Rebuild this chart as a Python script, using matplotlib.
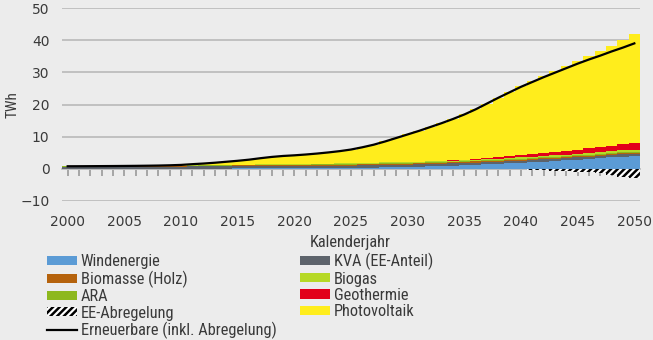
import matplotlib
matplotlib.use("Agg")
import matplotlib.pyplot as plt
from matplotlib.patches import Patch
from matplotlib.lines import Line2D
import numpy as np

years = list(range(2000, 2051))

wind = [0.0, 0.0, 0.0, 0.01, 0.01, 0.01, 0.01, 0.02, 0.02, 0.02,
        0.04, 0.07, 0.09, 0.09, 0.10, 0.11, 0.11, 0.13, 0.12, 0.14,
        0.15, 0.18, 0.20, 0.23, 0.27, 0.30, 0.35, 0.40, 0.47, 0.53,
        0.60, 0.70, 0.80, 0.90, 1.00, 1.10, 1.25, 1.40, 1.55, 1.70,
        1.85, 2.05, 2.25, 2.45, 2.65, 2.85, 3.10, 3.35, 3.60, 3.80, 4.00]
kva = [0.60, 0.60, 0.61, 0.62, 0.62, 0.63, 0.64, 0.65, 0.65, 0.66,
       0.67, 0.68, 0.69, 0.70, 0.70, 0.71, 0.71, 0.72, 0.72, 0.72,
       0.72, 0.72, 0.72, 0.72, 0.72, 0.72, 0.72, 0.72, 0.72, 0.72,
       0.71, 0.71, 0.71, 0.71, 0.71, 0.70, 0.70, 0.70, 0.70, 0.70,
       0.70, 0.70, 0.70, 0.70, 0.70, 0.70, 0.70, 0.70, 0.70, 0.70, 0.70]
biomasse = [0.05, 0.05, 0.05, 0.06, 0.06, 0.07, 0.08, 0.09, 0.10, 0.11,
            0.12, 0.14, 0.16, 0.18, 0.20, 0.22, 0.24, 0.26, 0.28, 0.29,
            0.30, 0.30, 0.31, 0.31, 0.32, 0.32, 0.32, 0.33, 0.33, 0.33,
            0.33, 0.33, 0.33, 0.33, 0.33, 0.33, 0.33, 0.33, 0.33, 0.33,
            0.33, 0.33, 0.33, 0.33, 0.33, 0.33, 0.33, 0.33, 0.33, 0.33, 0.33]
ara = [0.10, 0.10, 0.10, 0.10, 0.10, 0.10, 0.10, 0.10, 0.10, 0.10,
       0.10, 0.10, 0.11, 0.11, 0.11, 0.12, 0.12, 0.12, 0.13, 0.13,
       0.13, 0.14, 0.14, 0.15, 0.15, 0.16, 0.16, 0.17, 0.17, 0.18,
       0.18, 0.19, 0.19, 0.20, 0.21, 0.22, 0.23, 0.24, 0.25, 0.26,
       0.27, 0.28, 0.29, 0.30, 0.30, 0.31, 0.32, 0.33, 0.33, 0.34, 0.35]
biogas = [0.03, 0.03, 0.04, 0.04, 0.05, 0.05, 0.06, 0.07, 0.08, 0.09,
          0.10, 0.11, 0.12, 0.13, 0.14, 0.15, 0.16, 0.17, 0.18, 0.19,
          0.20, 0.21, 0.22, 0.23, 0.24, 0.25, 0.26, 0.27, 0.28, 0.29,
          0.30, 0.31, 0.32, 0.33, 0.34, 0.35, 0.36, 0.37, 0.38, 0.39,
          0.40, 0.42, 0.43, 0.45, 0.46, 0.48, 0.49, 0.51, 0.52, 0.54, 0.55]
geothermie = [0.0] * 34 + [0.05, 0.10, 0.20, 0.30, 0.40, 0.50,
                           0.60, 0.75, 0.90, 1.00, 1.15, 1.30, 1.45, 1.60,
                           1.75, 1.95, 2.10]
photovoltaik = [0.02, 0.03, 0.03, 0.02, 0.03, 0.04, 0.04, 0.04, 0.07, 0.12,
                0.19, 0.35, 0.48, 0.69, 0.95, 1.19, 1.51, 1.90, 2.27, 2.53,
                2.70, 2.90, 3.16, 3.46, 3.80, 4.25, 4.89, 5.61, 6.53, 7.55,
                8.58, 9.56, 10.65, 11.73, 12.86, 14.10, 15.43, 16.96, 18.54, 20.02,
                21.55, 22.77, 24.00, 25.22, 26.41, 27.63, 28.71, 29.78, 31.07, 32.44,
                33.97]
abregelung = [0.0] * 38 + [-0.05, -0.10, -0.20, -0.30, -0.40, -0.55, -0.70,
                           -0.90, -1.10, -1.40, -1.80, -2.40, -3.00]
erneuerbare = [0.80, 0.81, 0.83, 0.85, 0.87, 0.90, 0.93, 0.97, 1.02, 1.10,
               1.22, 1.45, 1.65, 1.90, 2.20, 2.50, 2.85, 3.30, 3.70, 4.00,
               4.20, 4.45, 4.75, 5.10, 5.50, 6.00, 6.70, 7.50, 8.50, 9.60,
               10.70, 11.80, 13.00, 14.20, 15.50, 16.90, 18.50, 20.30, 22.10, 23.80,
               25.50, 27.00, 28.50, 29.90, 31.30, 32.70, 34.00, 35.20, 36.50, 37.70,
               39.00]

BG = "#ececec"
TXT = "#3a3a3a"
GRID = "#bdbdbd"
NARROW = ['Roboto Condensed', 'Liberation Sans Narrow', 'DejaVu Sans']
NUM = ['DejaVu Sans']
FS = 11.8

plt.rcParams['font.family'] = NARROW
plt.rcParams['hatch.linewidth'] = 1.8

fig = plt.figure(figsize=(6.53, 3.40), dpi=100, facecolor=BG)
ax = fig.add_axes([62/653, 1-201/340, (640-62)/653, (201-8)/340])
ax.set_facecolor(BG)

stack = [
    ("Windenergie", wind, "#5b9bd5"),
    ("KVA (EE-Anteil)", kva, "#5d636b"),
    ("Biomasse (Holz)", biomasse, "#b5620c"),
    ("ARA", ara, "#8db81e"),
    ("Biogas", biogas, "#b6d925"),
    ("Geothermie", geothermie, "#e2001a"),
    ("Photovoltaik", photovoltaik, "#ffed1c"),
]
x = np.array(years)
bottom = np.zeros(len(years))
handles = {}
for name, vals, col in stack:
    v = np.array(vals)
    ax.bar(x, v, width=1.0, bottom=bottom, color=col, linewidth=0, zorder=3)
    handles[name] = Patch(facecolor=col, edgecolor='none')
    bottom = bottom + v

ax.bar(x, abregelung, width=1.0, bottom=0, facecolor="white", edgecolor="black",
       hatch="/////", linewidth=0, zorder=3)
handles["EE-Abregelung"] = Patch(facecolor="white", edgecolor="black", hatch="/////", linewidth=0)

ax.plot(x, erneuerbare, color="black", linewidth=1.6, zorder=5)
handles["Erneuerbare (inkl. Abregelung)"] = Line2D([], [], color="black", linewidth=1.6)

ax.set_xlim(1999.5, 2050.5)
ax.set_ylim(-10, 50)
ax.set_yticks(range(-10, 51, 10))
ax.yaxis.grid(True, color=GRID, linewidth=1.3, zorder=0)
ax.set_axisbelow(True)

for s in ["top", "right", "left"]:
    ax.spines[s].set_visible(False)
ax.spines["bottom"].set_position(("data", 0))
ax.spines["bottom"].set_color(GRID)
ax.spines["bottom"].set_linewidth(1.3)
ax.spines["bottom"].set_zorder(2)

ax.set_xticks(range(2000, 2051, 5))
ax.set_xticks(years, minor=True)
ax.tick_params(axis="x", which="both", direction="out", length=5, width=1.2,
               color="#9a9a9a", labelsize=10, labelcolor=TXT, pad=28)
ax.tick_params(axis="y", length=0, labelsize=10, labelcolor=TXT, pad=9)
for lab in ax.get_xticklabels() + ax.get_yticklabels():
    lab.set_family(NUM)
fig.text(13/653, 1-105/340, "TWh", rotation=90, ha="center", va="center",
         fontsize=11, color=TXT)
fig.text(350/653, 1-243/340, "Kalenderjahr", ha="center", va="center",
         fontsize=FS, color=TXT)

order = ["Windenergie", "Biomasse (Holz)", "ARA", "EE-Abregelung",
         "Erneuerbare (inkl. Abregelung)", "KVA (EE-Anteil)", "Biogas",
         "Geothermie", "Photovoltaik"]
leg = fig.legend([handles[k] for k in order], order, ncol=2,
                 loc="upper left", bbox_to_anchor=(47/653, 1-253/340),
                 frameon=False, fontsize=FS, handlelength=1.85, handleheight=0.5,
                 handletextpad=0.2, labelspacing=0.08, columnspacing=1.45,
                 borderaxespad=0, borderpad=0)
for t in leg.get_texts():
    t.set_color(TXT)

fig.savefig("out.png", dpi=100, facecolor=BG)
